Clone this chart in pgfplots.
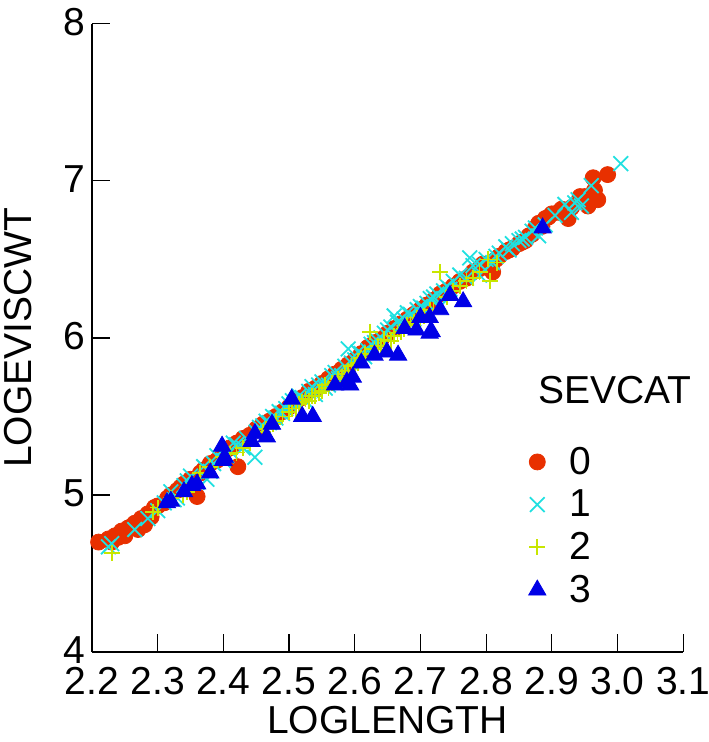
\documentclass[border=0pt]{standalone}
\usepackage{pgfplots}
\pgfplotsset{compat=1.18}
\usepackage{fontspec}
\setmainfont{Liberation Sans}

\definecolor{c0}{RGB}{232,48,0}
\definecolor{c1}{RGB}{32,224,224}
\definecolor{c2}{RGB}{200,230,0}
\definecolor{c3}{RGB}{0,0,230}

\begin{document}
\begin{tikzpicture}
\begin{axis}[
    width=295.5pt, height=314pt, scale only axis,
    xmin=2.2, xmax=3.1, ymin=4, ymax=8,
    xtick={2.2,2.3,...,3.1}, ytick={4,5,6,7,8},
    axis lines*=left,
    axis line style={line width=0.6pt},
    tick style={black, line width=0.6pt},
    tick align=inside, major tick length=9pt,
    clip=false,
    font=\fontsize{19.5}{23}\selectfont,
    /pgf/number format/assume math mode=true,
    xticklabel style={yshift=-4pt, /pgf/number format/.cd, fixed, fixed zerofill, precision=1},
    yticklabel style={yshift=1pt},
    xlabel={LOGLENGTH}, ylabel={LOGEVISCWT},
    xlabel style={yshift=1pt}, ylabel style={yshift=9pt},
    legend style={at={(axis cs:2.855,5.36)}, anchor=north west, draw=none, fill=none,
        font=\fontsize{19.5}{23}\selectfont, row sep=2.3pt},
    legend cell align=left,
]
\addplot[only marks, mark=*, mark size=4pt, color=c0] coordinates {
(2.21,4.70)(2.225,4.72)(2.23,4.70)(2.235,4.74)(2.24,4.73)(2.245,4.77)(2.25,4.74)
(2.255,4.79)(2.26,4.80)(2.265,4.82)(2.27,4.78)(2.275,4.85)(2.28,4.81)(2.285,4.88)
(2.29,4.86)(2.295,4.92)(2.30,4.93)(2.31,4.95)(2.315,4.98)(2.32,5.00)(2.33,5.03)
(2.335,5.05)(2.34,5.07)(2.35,5.10)(2.36,4.99)(2.365,5.14)(2.37,5.16)(2.38,5.20)
(2.39,5.22)(2.40,5.26)(2.41,5.30)(2.422,5.18)(2.42,5.33)(2.43,5.36)(2.44,5.38)
(2.45,5.42)(2.46,5.45)(2.47,5.47)(2.48,5.50)(2.49,5.53)(2.50,5.56)(2.51,5.60)
(2.52,5.62)(2.53,5.66)(2.54,5.68)(2.55,5.71)(2.56,5.74)(2.57,5.77)(2.58,5.80)
(2.59,5.83)(2.60,5.86)(2.61,5.90)(2.62,5.94)(2.63,5.97)(2.64,5.99)(2.65,6.03)
(2.66,6.06)(2.67,6.09)(2.68,6.12)(2.69,6.15)(2.70,6.18)(2.71,6.21)
(2.72,6.24)(2.73,6.28)(2.74,6.30)(2.75,6.33)(2.76,6.36)(2.77,6.38)(2.78,6.42)
(2.79,6.44)(2.795,6.47)(2.80,6.46)(2.81,6.42)(2.815,6.50)(2.82,6.52)(2.83,6.55)
(2.835,6.56)(2.84,6.57)(2.85,6.60)(2.855,6.61)(2.86,6.62)(2.865,6.65)(2.87,6.66)
(2.875,6.70)(2.88,6.73)(2.885,6.71)(2.89,6.76)(2.895,6.77)(2.90,6.79)(2.91,6.80)
(2.915,6.82)(2.925,6.76)(2.93,6.83)(2.943,6.90)(2.95,6.90)(2.955,6.84)(2.963,7.02)
(2.965,6.94)(2.97,6.88)(2.985,7.04)
};
\addlegendentry{\hspace{10pt}0}
\addplot[only marks, mark=x, mark size=5.2pt, color=c1, mark options={line width=0.9pt}] coordinates {
(2.225,4.67)(2.23,4.69)(2.265,4.78)(2.285,4.85)(2.30,4.90)(2.31,4.95)(2.32,5.02)
(2.325,4.97)(2.33,4.98)(2.34,5.06)(2.345,5.09)(2.35,5.12)(2.36,5.08)(2.37,5.18)
(2.375,5.10)(2.38,5.15)(2.385,5.20)(2.39,5.25)(2.40,5.22)(2.405,5.25)(2.41,5.28)
(2.415,5.33)(2.42,5.32)(2.43,5.30)(2.435,5.36)(2.448,5.24)(2.45,5.40)(2.455,5.43)
(2.46,5.44)(2.465,5.47)(2.47,5.46)(2.475,5.50)(2.48,5.49)(2.485,5.53)(2.49,5.52)
(2.495,5.55)(2.50,5.58)(2.505,5.60)(2.51,5.57)(2.515,5.63)(2.52,5.62)(2.525,5.60)
(2.53,5.66)(2.535,5.69)(2.54,5.64)(2.545,5.70)(2.55,5.72)(2.555,5.68)(2.56,5.70)
(2.565,5.76)(2.57,5.78)(2.575,5.74)(2.58,5.76)(2.585,5.82)(2.59,5.93)(2.595,5.84)
(2.60,5.86)(2.605,5.91)(2.61,5.90)(2.615,5.88)(2.62,5.92)(2.625,5.96)(2.63,5.97)
(2.635,5.98)(2.64,6.00)(2.645,6.03)(2.65,6.05)(2.655,6.07)(2.66,6.14)(2.665,6.10)
(2.67,6.08)(2.675,6.12)(2.68,6.16)(2.685,6.15)(2.69,6.12)(2.695,6.18)(2.70,6.20)
(2.705,6.19)(2.71,6.22)(2.715,6.25)(2.72,6.26)(2.725,6.28)(2.73,6.20)(2.735,6.30)
(2.74,6.33)(2.745,6.31)(2.75,6.36)(2.76,6.40)(2.775,6.51)(2.77,6.38)(2.78,6.46)
(2.79,6.40)(2.79,6.47)(2.80,6.50)(2.81,6.48)(2.815,6.52)(2.82,6.54)(2.83,6.58)
(2.835,6.56)(2.84,6.60)(2.85,6.62)(2.855,6.63)(2.86,6.64)(2.87,6.68)(2.875,6.70)
(2.88,6.65)(2.89,6.72)(2.905,6.78)(2.92,6.85)(2.93,6.80)(2.935,6.86)(2.94,6.88)
(2.945,6.84)(2.96,6.97)(3.005,7.11)
};
\addlegendentry{\hspace{10pt}1}
\addplot[only marks, mark=+, mark size=4pt, color=c2, mark options={line width=0.9pt}] coordinates {
(2.23,4.63)(2.293,4.89)(2.30,4.92)(2.32,4.98)(2.339,5.00)(2.345,5.02)(2.35,5.07)
(2.364,5.14)(2.38,5.18)(2.40,5.24)(2.41,5.26)(2.42,5.27)(2.43,5.30)(2.44,5.33)
(2.45,5.37)(2.46,5.40)(2.465,5.42)(2.475,5.45)(2.48,5.47)(2.49,5.50)(2.50,5.53)
(2.505,5.55)(2.51,5.55)(2.515,5.58)(2.52,5.59)(2.525,5.61)(2.53,5.60)(2.535,5.63)
(2.54,5.63)(2.545,5.65)(2.55,5.66)(2.555,5.70)(2.56,5.68)(2.565,5.71)(2.57,5.72)
(2.575,5.74)(2.58,5.75)(2.585,5.77)(2.59,5.79)(2.595,5.82)(2.60,5.83)(2.605,5.84)
(2.61,5.87)(2.615,5.90)(2.623,6.04)(2.63,5.93)(2.635,5.95)(2.64,5.95)(2.645,5.99)
(2.65,5.98)(2.655,5.98)(2.66,6.01)(2.665,6.03)(2.67,6.04)(2.675,6.06)(2.68,6.08)
(2.685,6.09)(2.69,6.10)(2.695,6.13)(2.70,6.12)(2.705,6.14)(2.715,6.18)(2.72,6.18)
(2.73,6.42)(2.74,6.26)(2.75,6.30)(2.76,6.33)(2.77,6.36)(2.78,6.38)(2.79,6.42)
(2.803,6.50)(2.806,6.36)(2.816,6.48)
};
\addlegendentry{\hspace{10pt}2}
\addplot[only marks, mark=triangle*, mark size=5pt, color=c3] coordinates {
(2.314,4.95)(2.32,4.96)(2.34,5.02)(2.352,5.06)(2.36,5.07)(2.38,5.14)(2.398,5.31)
(2.40,5.22)(2.402,5.24)(2.443,5.34)(2.448,5.39)(2.466,5.37)(2.474,5.45)(2.504,5.61)
(2.52,5.50)(2.536,5.50)(2.57,5.70)(2.588,5.72)(2.593,5.70)(2.597,5.75)(2.61,5.84)
(2.63,5.89)(2.649,5.91)(2.666,5.89)(2.676,6.06)(2.694,6.05)(2.70,6.13)(2.714,6.13)
(2.717,6.04)(2.714,6.03)(2.73,6.18)(2.745,6.27)(2.765,6.23)(2.886,6.70)
};
\addlegendentry{\hspace{10pt}3}
\node[font=\fontsize{19.5}{23}\selectfont] at (axis cs:2.996,5.67) {SEVCAT};
\coordinate (bl) at (rel axis cs:-0.1557,-0.1433);
\coordinate (tr) at (rel axis cs:1.0423,1.038);
\end{axis}
\pgfresetboundingbox
\path (bl) rectangle (tr);
\end{tikzpicture}
\end{document}
